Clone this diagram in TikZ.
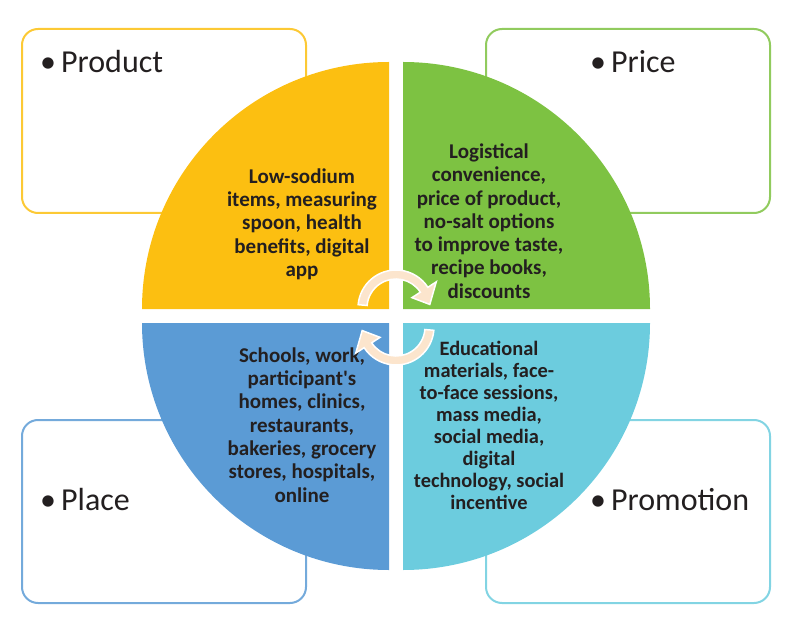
\documentclass[tikz,border=0pt]{standalone}
\usepackage{fontspec}
\setmainfont{Carlito}
\usepackage{tikz}
\tikzset{>=latex}

\definecolor{prodyellow}{RGB}{252,191,17}
\definecolor{pricegreen}{RGB}{125,194,66}
\definecolor{placeblue}{RGB}{91,155,213}
\definecolor{promocyan}{RGB}{108,204,222}
\definecolor{peach}{RGB}{252,229,205}
\definecolor{textdark}{RGB}{35,31,32}

\tikzset{
  corner box/.style={line width=2pt, rounded corners=16pt},
  corner label/.style={anchor=base west, inner sep=0pt, text=textdark,
    font=\fontsize{32}{38}\selectfont},
  mix text/.style={align=center, inner sep=0pt, text=textdark,
    font=\fontsize{21}{23.3}\selectfont\bfseries},
  cycle arrow/.style={fill=peach, draw=white, line width=1.5pt}
}

\begin{document}
\begin{tikzpicture}[x=1pt,y=1pt]
                \useasboundingbox (0,0) rectangle (800,630);
                % outer boxes
                \draw[corner box, prodyellow!85] (22,417) rectangle (306,601);
                \draw[corner box, pricegreen!85] (486,417) rectangle (770,601);
                \draw[corner box, placeblue!85] (22,27) rectangle (306,210);
                \draw[corner box, promocyan!85] (486,27) rectangle (770,210);
                \node[corner label] (product) at (40,557) {•\hspace{5pt}Product};
                \node[corner label] (price) at (590,557) {•\hspace{5pt}Price};
                \node[corner label] (place) at (40,120) {•\hspace{5pt}Place};
                \node[corner label] (promotion) at (590,120) {•\hspace{5pt}Promotion};
                % the four quarters
                \fill[prodyellow] (389,321) -- (142,321) arc[start angle=180,end angle=90,radius=247pt] -- cycle;
                \fill[pricegreen] (403,321) -- (403,568) arc[start angle=90,end angle=0,radius=247pt] -- cycle;
                \fill[placeblue] (389,307) -- (389,60) arc[start angle=270,end angle=180,radius=247pt] -- cycle;
                \fill[promocyan] (403,307) -- (650,307) arc[start angle=0,end angle=-90,radius=247pt] -- cycle;
                \node[mix text] (product text) at (302,406) {Low-sodium\\items, measuring\\spoon, health\\benefits, digital\\app};
                \node[mix text] (price text) at (489,409) {Logistical\\convenience,\\price of product,\\no-salt options\\to improve taste,\\recipe books,\\discounts};
                \node[mix text] (place text) at (302,205) {Schools, work,\\participant\textquotesingle s\\homes, clinics,\\restaurants,\\bakeries, grocery\\stores, hospitals,\\online};
                \node[mix text, font=\fontsize{20.4}{22}\selectfont\bfseries] (promotion text) at (489,205) {Educational\\materials, face-\\to-face sessions,\\mass media,\\social media,\\digital\\technology, social\\incentive};
                % cycle arrows
                \begin{scope}[shift={(396,322)}]
                \draw[cycle arrow] (175:38) arc[start angle=175,end angle=33,radius=38pt] -- (33:48) -- (6:34) -- (33:19) -- (33:29) arc[start angle=33,end angle=175,radius=29pt] -- cycle;
                \end{scope}
                \begin{scope}[shift={(396,303)}]
                \draw[cycle arrow] (355:38) arc[start angle=355,end angle=213,radius=38pt] -- (213:48) -- (186:34) -- (213:19) -- (213:29) arc[start angle=213,end angle=355,radius=29pt] -- cycle;
                \end{scope}
            \end{tikzpicture}
\end{document}
